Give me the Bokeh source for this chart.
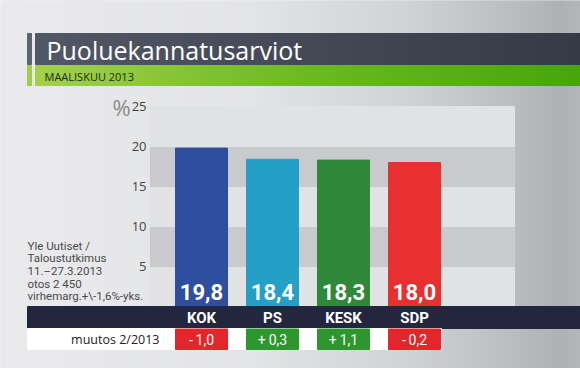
from bokeh.plotting import figure
from bokeh.models import Range1d
from bokeh.core.properties import value
from bokeh.embed import file_html
from bokeh.resources import INLINE

# ---------------- data ----------------
title = "Puoluekannatusarviot"
subtitle = "MAALISKUU 2013"
parties = ["KOK", "PS", "KESK", "SDP"]
support = [19.8, 18.4, 18.3, 18.0]
change = [-1.0, 0.3, 1.1, -0.2]
bar_colors = ["#2f4e9d", "#24a0c6", "#2e8a3a", "#e7302f"]
y_ticks = [5, 10, 15, 20, 25]
source_lines = ["Yle Uutiset /", "Taloustutkimus", "11.\u201327.3.2013",
                "otos 2 450", "virhemarg.+\\-1,6%-yks."]
change_label = "muutos 2/2013"


def fi(v):
    return f"{v:.1f}".replace(".", ",")


def fi_signed(v):
    return ("+" if v >= 0 else "-") + "\u2009" + fi(abs(v))


def lerp_hex(stops, x):
    for (x0, c0), (x1, c1) in zip(stops[:-1], stops[1:]):
        if x0 <= x <= x1:
            t = (x - x0) / (x1 - x0) if x1 > x0 else 0
            a = [int(c0[i:i + 2], 16) for i in (1, 3, 5)]
            b = [int(c1[i:i + 2], 16) for i in (1, 3, 5)]
            return "#%02x%02x%02x" % tuple(round(a[k] + (b[k] - a[k]) * t) for k in range(3))
    return stops[-1][1]


FONT = value("Open Sans")
NARROW = value("Roboto")
idx = list(range(len(parties)))

W, H = 580, 368
p = figure(width=W, height=H, x_range=Range1d(0, W), y_range=Range1d(H, 0),
           output_backend="svg", toolbar_location=None, min_border=0,
           x_axis_location=None, y_axis_location=None, outline_line_color=None)
p.grid.visible = False
p.background_fill_color = "#e6e7e9"
p.border_fill_color = "#e6e7e9"
p.extra_x_ranges = {"idx": Range1d((0 - 201) / 71, (W - 201) / 71)}
p.extra_y_ranges = {"pct": Range1d((306 - H) / 8, 306 / 8)}

# background gradient
bg_stops = [(0, "#eaeaec"), (250, "#e3e4e6"), (400, "#d2d3d6"), (520, "#b9bbbf"),
            (560, "#aeb0b4"), (580, "#b4b6ba")]
xs = list(range(0, 584, 4))
p.quad(left=xs[:-1], right=xs[1:], top=0, bottom=H,
       color=[lerp_hex(bg_stops, x + 2) for x in xs[:-1]])

# title bar
t_stops = [(35, "#525766"), (580, "#363a46")]
tx = list(range(35, 584, 5))
p.quad(left=tx[:-1], right=tx[1:], top=33, bottom=64,
       color=[lerp_hex(t_stops, x) for x in tx[:-1]])
p.quad(left=27, right=31, top=33, bottom=64, color="#5d6270")
g_stops = [(35, "#a2d04a"), (300, "#6cba22"), (580, "#45a60a")]
p.quad(left=tx[:-1], right=tx[1:], top=65, bottom=85,
       color=[lerp_hex(g_stops, x) for x in tx[:-1]])
p.quad(left=27, right=31, top=65, bottom=85, color="#9fcd45")
p.text(x=[46], y=[49], text=[title], text_font=FONT, text_font_size="25px",
       text_color="white", text_baseline="middle")
p.text(x=[44], y=[75.5], text=[subtitle], text_font=FONT, text_font_size="11px",
       text_color="#1c2c08", text_baseline="middle")

# bands
for k in range(5):
    p.quad(left=150, right=514, bottom=5 * k, top=5 * k + 5, y_range_name="pct",
           color="#e1e2e4" if k % 2 == 0 else "#c9cacd")

# y tick labels
p.text(x=[146] * len(y_ticks), y=y_ticks, text=[str(t) for t in y_ticks],
       y_range_name="pct", text_font=FONT, text_font_size="13px", text_color="#444",
       text_align="right", text_baseline="middle")
p.text(x=[121], y=[max(y_ticks)], text=["%"], y_range_name="pct", text_font=FONT,
       text_font_size="22px", text_color="#8a8a8c", text_align="center",
       text_baseline="middle")

# bars
p.vbar(x=idx, width=0.732, bottom=0, top=support, color=bar_colors,
       x_range_name="idx", y_range_name="pct")
p.text(x=idx, y=[1.8] * len(idx), text=[fi(v) for v in support],
       x_range_name="idx", y_range_name="pct", text_font=NARROW,
       text_font_style="bold", text_font_size="22px", text_color="white",
       text_align="center", text_baseline="middle")

# source text
p.text(x=[27] * len(source_lines), y=[245, 257.5, 270, 283, 295.5], text=source_lines,
       text_font=NARROW, text_font_size="11.5px", text_color="#4a4a4c",
       text_baseline="middle")

# dark strip with party names
p.quad(left=27, right=W, top=306, bottom=328, color="#23263f")
p.text(x=idx, y=[317.5] * len(idx), text=parties, x_range_name="idx",
       text_font=NARROW, text_font_style="bold",
       text_font_size="15px", text_color="white", text_align="center",
       text_baseline="middle")

# change row
p.quad(left=27, right=441, top=328, bottom=349, color="white")
p.vbar(x=idx, width=0.732, top=328.5, bottom=349,
       color=["#e3262b" if c < 0 else "#2e962e" for c in change], x_range_name="idx")
p.text(x=idx, y=[339] * len(idx), text=[fi_signed(c) for c in change],
       x_range_name="idx", text_font=NARROW, text_font_size="14px", text_color="white",
       text_align="center", text_baseline="middle")
p.text(x=[159], y=[338.5], text=[change_label], text_font=FONT, text_font_size="12.5px",
       text_color="#222", text_align="right", text_baseline="middle")

open("out.html", "w").write(file_html(p, INLINE))
